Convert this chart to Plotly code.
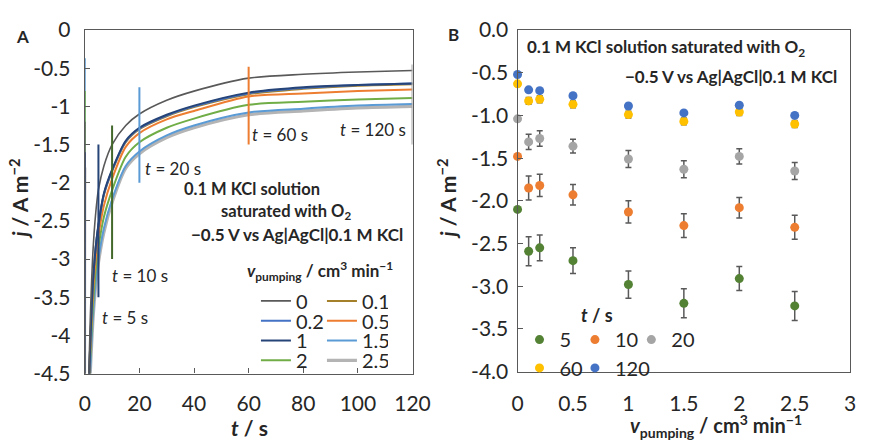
import plotly.graph_objects as go

# ---------------- Panel A data: current transients ----------------
t_s = [0, 0.2, 1.5, 2, 3, 4, 5, 7, 10, 15, 20, 30, 40, 60, 80, 100, 120]
j_v0 = [-1.20, -6.0, -4.50, -3.80, -2.90, -2.40, -2.09, -1.78, -1.50, -1.25, -1.10, -0.92, -0.80, -0.63, -0.58, -0.55, -0.53]
j_v01 = [-1.60, -6.0, -4.65, -4.10, -3.30, -2.85, -2.57, -2.16, -1.85, -1.47, -1.30, -1.13, -1.01, -0.84, -0.77, -0.73, -0.71]
j_v02 = [-1.60, -6.0, -4.65, -4.10, -3.30, -2.85, -2.56, -2.15, -1.84, -1.46, -1.29, -1.12, -1.00, -0.83, -0.76, -0.72, -0.70]
j_v05 = [-1.70, -6.0, -4.70, -4.20, -3.45, -3.00, -2.70, -2.30, -1.95, -1.53, -1.35, -1.17, -1.06, -0.87, -0.83, -0.80, -0.78]
j_v1 = [-1.60, -6.0, -4.65, -4.10, -3.30, -2.85, -2.55, -2.14, -1.83, -1.45, -1.28, -1.11, -0.99, -0.82, -0.75, -0.72, -0.70]
j_v15 = [-0.37, -6.0, -4.85, -4.45, -3.75, -3.30, -3.00, -2.60, -2.22, -1.78, -1.59, -1.38, -1.25, -1.08, -1.03, -0.99, -0.97]
j_v2 = [-0.80, -6.0, -4.75, -4.30, -3.60, -3.15, -2.85, -2.45, -2.10, -1.66, -1.47, -1.28, -1.16, -0.98, -0.94, -0.91, -0.89]
j_v25 = [-1.80, -6.0, -4.90, -4.50, -3.80, -3.35, -3.05, -2.65, -2.26, -1.81, -1.62, -1.41, -1.28, -1.11, -1.06, -1.02, -1.00]

curve_names = ["0", "0.1", "0.2", "0.5", "1", "1.5", "2", "2.5"]

# vertical marker lines in panel A (sampling times)
mark_t = [5, 10, 20, 60, 120]
mark_top = [-1.50, -1.25, -0.75, -0.48, -0.45]
mark_bottom = [-3.50, -3.00, -2.00, -1.50, -1.50]
mark_labels = ["<i>t</i> = 5 s", "<i>t</i> = 10 s", "<i>t</i> = 20 s", "<i>t</i> = 60 s", "<i>t</i> = 120 s"]

# ---------------- Panel B data: j vs pumping rate ----------------
v_pump = [0, 0.1, 0.2, 0.5, 1, 1.5, 2, 2.5]
j_t5 = [-2.10, -2.59, -2.55, -2.70, -2.98, -3.20, -2.91, -3.23]
j_t10 = [-1.48, -1.85, -1.82, -1.93, -2.13, -2.29, -2.08, -2.31]
j_t20 = [-1.04, -1.31, -1.27, -1.36, -1.51, -1.63, -1.48, -1.65]
j_t60 = [-0.63, -0.83, -0.81, -0.87, -0.99, -1.07, -0.96, -1.10]
j_t120 = [-0.52, -0.70, -0.71, -0.77, -0.89, -0.97, -0.88, -1.00]
e_t5 = [0, 0.17, 0.15, 0.15, 0.16, 0.17, 0.14, 0.17]
e_t10 = [0, 0.14, 0.13, 0.12, 0.13, 0.14, 0.12, 0.14]
e_t20 = [0, 0.09, 0.09, 0.08, 0.10, 0.10, 0.09, 0.10]
e_t60 = [0, 0.04, 0.04, 0.04, 0.04, 0.04, 0.04, 0.04]
e_t120 = [0, 0.02, 0.02, 0.02, 0.02, 0.02, 0.02, 0.02]
t_names = ["5", "10", "20", "60", "120"]

# tick labels
a_yvals = [0, -0.5, -1, -1.5, -2, -2.5, -3, -3.5, -4, -4.5]
a_ytext = ["0", "-0.5", "-1", "-1.5", "-2", "-2.5", "-3", "-3.5", "-4", "-4.5"]
b_yvals = [0, -0.5, -1, -1.5, -2, -2.5, -3, -3.5, -4]
b_ytext = ["0.0", "-0.5", "-1.0", "-1.5", "-2.0", "-2.5", "-3.0", "-3.5", "-4.0"]

W, H = 874, 444
FONT = "Lato"

def px(x):
    return x / W

def py(y):
    return 1 - y / H

fig = go.Figure()

# ---- Panel A curves ----
curve_data = [j_v25, j_v15, j_v2, j_v05, j_v01, j_v02, j_v1, j_v0]
curve_labels = ["2.5", "1.5", "2", "0.5", "0.1", "0.2", "1", "0"]
curve_colors = ["#B4B4B4", "#5B9BD5", "#70AD47", "#ED7D31", "#A5802A", "#4472C4", "#264478", "#595959"]
curve_widths = [3.2, 2, 2, 2, 2, 2, 2, 1.6]
# legend rows: (0,0.1) (0.2,0.5) (1,1.5) (2,2.5)
legend_of = {"0": "legend", "0.1": "legend", "0.2": "legend2", "0.5": "legend2",
             "1": "legend3", "1.5": "legend3", "2": "legend4", "2.5": "legend4"}
rank_of = {n: i for i, n in enumerate(curve_names)}
for ys, name, col, w in zip(curve_data, curve_labels, curve_colors, curve_widths):
    fig.add_trace(go.Scatter(
        x=t_s, y=ys, mode="lines", name=name,
        line=dict(color=col, width=w, shape="spline", smoothing=0.8),
        xaxis="x", yaxis="y", legend=legend_of[name], legendrank=rank_of[name],
        hoverinfo="skip"))

mark_colors = ["#264478", "#43682B", "#5B9BD5", "#ED7D31", "#A5A5A5"]
for tt, top, bot, col in zip(mark_t, mark_top, mark_bottom, mark_colors):
    fig.add_trace(go.Scatter(
        x=[tt, tt], y=[top, bot], mode="lines", showlegend=False,
        line=dict(color=col, width=2), xaxis="x", yaxis="y", hoverinfo="skip"))

# ---- Panel B points ----
b_series = [j_t5, j_t10, j_t20, j_t60, j_t120]
b_err = [e_t5, e_t10, e_t20, e_t60, e_t120]
b_colors = ["#548235", "#ED7D31", "#A5A5A5", "#FFC000", "#4472C4"]
b_leg = ["legend5", "legend6", "legend7", "legend8", "legend9"]
for ys, es, name, col, lg in zip(b_series, b_err, t_names, b_colors, b_leg):
    fig.add_trace(go.Scatter(
        x=v_pump, y=ys, mode="markers", name=name, cliponaxis=False,
        marker=dict(color=col, size=9),
        error_y=dict(type="data", array=es, visible=True, color="#595959", thickness=1.5, width=3),
        xaxis="x2", yaxis="y2", legend=lg, hoverinfo="skip"))

axis_common = dict(showgrid=False, zeroline=False, showline=True, mirror=True,
                   linecolor="#595959", linewidth=1.3, ticks="inside", ticklen=5,
                   tickcolor="#595959", tickfont=dict(family=FONT, size=21, color="#262626"))

fig.update_layout(
    width=W, height=H,
    margin=dict(l=0, r=0, t=0, b=0),
    paper_bgcolor="white", plot_bgcolor="white",
    font=dict(family=FONT, color="#262626"),
    xaxis=dict(domain=[px(81), px(418)], range=[0, 120], tickvals=[0, 20, 40, 60, 80, 100, 120],
               anchor="y", ticklabelstandoff=11, **axis_common),
    yaxis=dict(domain=[py(381), py(17)], range=[-4.5, 0], tickvals=a_yvals, ticktext=a_ytext,
               anchor="x", ticklabelstandoff=9, **axis_common),
    xaxis2=dict(domain=[px(526), px(868)], range=[0, 3], tickvals=[0, 0.5, 1, 1.5, 2, 2.5, 3],
                anchor="y2", ticklabelstandoff=13, **{**axis_common, "ticks": ""}),
    yaxis2=dict(domain=[py(379), py(17)], range=[-4, 0], tickvals=b_yvals, ticktext=b_ytext,
                anchor="x2", ticklabelstandoff=4, **axis_common),
    showlegend=True,
)

leg_font = dict(family=FONT, size=20, color="#262626")
legA_rows = [304, 325, 346, 367]
for i, yy in enumerate(legA_rows):
    key = "legend" if i == 0 else f"legend{i + 1}"
    fig.update_layout(**{key: dict(
        orientation="h", x=px(257), y=py(yy), xanchor="left", yanchor="middle",
        bgcolor="rgba(0,0,0,0)", font=leg_font, entrywidth=21, entrywidthmode="pixels",
        itemwidth=30, tracegroupgap=0)})
legB_pos = [("legend5", 528, 345), ("legend6", 585, 345), ("legend7", 643, 345),
            ("legend8", 528, 375), ("legend9", 585, 375)]
for key, xx, yy in legB_pos:
    fig.update_layout(**{key: dict(
        orientation="h", x=px(xx), y=py(yy), xanchor="left", yanchor="middle",
        bgcolor="rgba(0,0,0,0)", font=leg_font, itemwidth=30)})

ann = []
def add_text(x, y, text, size, bold=False, angle=0, xanchor="center", yanchor="middle"):
    ann.append(dict(xref="paper", yref="paper", x=px(x), y=py(y), text=(f"<b>{text}</b>" if bold else text),
                    showarrow=False, font=dict(family=FONT, size=size, color="#262626"),
                    textangle=angle, xanchor=xanchor, yanchor=yanchor, borderpad=0))

add_text(17, 24, "A", 17, bold=True)
add_text(460, 22, "B", 17, bold=True)
# panel A labels
for (cx, cy), lab in zip([(122, 322), (138, 277), (172, 164), (282, 128), (377, 122)], mark_labels):
    add_text(cx, cy, lab, 17)
add_text(253, 185, "0.1 M KCl solution", 16.5, bold=True)
add_text(288, 209, "saturated with O<sub>2</sub>", 16.5, bold=True)
add_text(299, 234, "\u22120.5 V vs Ag|AgCl|0.1 M KCl", 17, bold=True)
add_text(323, 272, "<i>v</i><sub>pumping</sub> / cm<sup>3</sup> min<sup>\u22121</sup>", 17, bold=True)
add_text(250, 453, "<i>t</i> / s", 21, bold=True, yanchor="bottom")
add_text(13, 196, "<i>j</i> / A m<sup>\u22122</sup>", 21, bold=True, angle=-90)
# panel B labels
add_text(679, 36, "0.1 M KCl solution saturated with O<sub>2</sub>", 17, bold=True)
add_text(745, 66, "\u22120.5 V vs Ag|AgCl|0.1 M KCl", 17, bold=True)
add_text(608, 319, "<i>t</i> / s", 18, bold=True)
add_text(730, 454, "<i>v</i><sub>pumping</sub> / cm<sup>3</sup> min<sup>\u22121</sup>", 20, bold=True, yanchor="bottom")
add_text(453, 196, "<i>j</i> / A m<sup>\u22122</sup>", 21, bold=True, angle=-90)

fig.update_layout(annotations=ann)

fig.write_html("out.html")
